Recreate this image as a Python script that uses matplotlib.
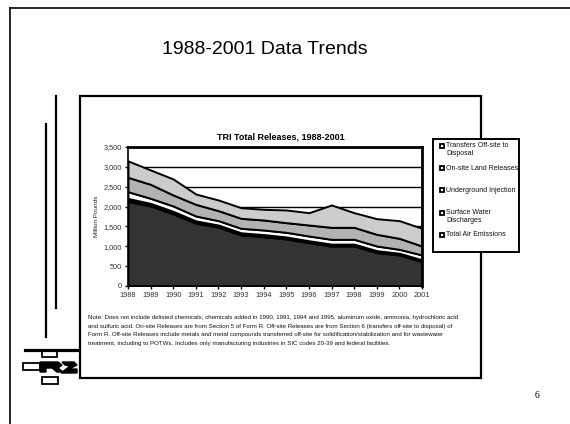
import matplotlib
matplotlib.use("Agg")
import matplotlib.pyplot as plt
from matplotlib.patches import Rectangle, Polygon
from matplotlib.lines import Line2D

# ---- data (million pounds) ----
years = list(range(1988, 2002))
air_emissions = [2125, 2015, 1815, 1580, 1480, 1285, 1240, 1185, 1090, 1005, 1005, 840, 780, 615]
surface_water = [80, 65, 65, 60, 55, 55, 55, 50, 50, 50, 50, 50, 45, 45]
underground_injection = [170, 127, 134, 123, 110, 112, 115, 116, 119, 120, 120, 117, 98, 121]
land_releases = [362, 353, 277, 293, 252, 252, 252, 244, 277, 302, 302, 294, 277, 226]
offsite_transfers = [413, 361, 403, 260, 268, 268, 269, 319, 310, 563, 369, 394, 445, 445]

series_labels = ["Transfers Off-site to\nDisposal", "On-site Land Releases",
                 "Underground Injection", "Surface Water\nDischarges",
                 "Total Air Emissions"]
y_ticks = [0, 500, 1000, 1500, 2000, 2500, 3000, 3500]
y_tick_labels = ["0", "500", "1,000", "1,500", "2,000", "2,500", "3,000", "3,500"]

note_lines = [
    "Note: Does not include delisted chemicals, chemicals added in 1990, 1991, 1994 and 1995, aluminum oxide, ammonia, hydrochloric acid",
    "and sulfuric acid. On-site Releases are from Section 5 of Form R. Off-site Releases are from Section 6 (transfers off-site to disposal) of",
    "Form R. Off-site Releases include metals and metal compounds transferred off-site for solidification/stabilization and for wastewater",
    "treatment, including to POTWs. Includes only manufacturing industries in SIC codes 20-39 and federal facilities.",
]

SANS = "Liberation Sans"
SERIF = "Liberation Serif"

W, H = 570, 424
fig = plt.figure(figsize=(W / 100, H / 100), dpi=100)
fig.patch.set_facecolor("white")

# full-page layer in pixel coordinates for the slide decorations
page = fig.add_axes([0, 0, 1, 1])
page.set_xlim(0, W)
page.set_ylim(H, 0)
page.axis("off")

# slide frame
page.add_line(Line2D([10, 10], [8, H], color="black", lw=1.2))
page.add_line(Line2D([10, W], [8, 8], color="black", lw=1.2))

# decorative vertical rules
page.add_line(Line2D([56, 56], [96, 308], color="black", lw=1.6))
page.add_line(Line2D([46, 46], [124, 337], color="black", lw=1.6))

# logo
page.add_line(Line2D([25, 77], [349.5, 349.5], color="black", lw=2.3))
page.add_patch(Rectangle((42, 351), 15, 6, facecolor="white", edgecolor="black", lw=1.3))
page.add_patch(Rectangle((23, 363), 17, 7, facecolor="white", edgecolor="black", lw=1.3))
page.add_patch(Polygon([(40, 362), (58, 362), (62, 365), (58, 368), (63, 372), (57, 372),
                        (52, 368), (46, 368), (46, 372), (40, 372)], closed=True,
                       facecolor="black", edgecolor="black"))
page.add_patch(Polygon([(62, 362), (74, 362), (77, 365), (69, 369), (77, 369), (77, 373),
                        (61, 373), (70, 366), (65, 365)], closed=True,
                       facecolor="black", edgecolor="black"))
page.add_patch(Rectangle((42, 377), 16, 7, facecolor="white", edgecolor="black", lw=1.3))

# chart frame
page.add_patch(Rectangle((80, 96), 401, 282, facecolor="white", edgecolor="black", lw=1.6))

# titles
page.text(265, 49, "1988-2001 Data Trends", fontsize=14, family=SANS,
          ha="center", va="center", color="black")
page.text(281, 137, "TRI Total Releases, 1988-2001", fontsize=6.5, family=SANS,
          fontweight="bold", ha="center", va="center", color="black")
page.text(537, 395, "6", fontsize=7, family=SERIF, ha="center", va="center")

# y axis title
page.text(96, 216, "Million Pounds", fontsize=4.6, family=SANS, rotation=90,
          ha="center", va="center", color="#222222")

# note under the chart
for i, line in enumerate(note_lines):
    page.text(88, 318 + i * 8.4, line, fontsize=4.45, family=SANS,
              ha="left", va="center", color="#111111")

# legend box
page.add_patch(Rectangle((433, 139), 86, 113, facecolor="white", edgecolor="black", lw=1.4))
legend_y = [146, 168, 190, 213, 235]
for label, yy in zip(series_labels, legend_y):
    page.add_patch(Rectangle((439.5, yy - 2.2), 4.4, 4.4, facecolor="white",
                             edgecolor="black", lw=1.3))
    if "\n" in label:
        page.text(446, yy - 3.8, label, fontsize=5.0, family=SANS, ha="left",
                  va="top", linespacing=1.15, color="#111111")
    else:
        page.text(446, yy, label, fontsize=5.0, family=SANS, ha="left",
                  va="center", color="#111111")

# ---- stacked area chart ----
ax = fig.add_axes([128 / W, 1 - 286 / H, (422 - 128) / W, (286 - 147) / H])
ax.set_facecolor("white")
for v in y_ticks[1:]:
    ax.axhline(v, color="black", lw=1.0, zorder=0)

ax.stackplot(years, air_emissions, surface_water, underground_injection,
             land_releases, offsite_transfers,
             colors=["#333333", "#000000", "#ffffff", "#b2b2b2", "#cccccc"],
             edgecolor="black", linewidth=1.4, zorder=2)

ax.set_xlim(years[0], years[-1])
ax.set_ylim(0, 3500)
ax.set_xticks(years)
ax.set_xticklabels([str(y) for y in years], fontsize=5.3, family=SANS, color="#333333")
ax.set_yticks(y_ticks)
ax.set_yticklabels(y_tick_labels, fontsize=5.3, family=SANS, color="#333333")
ax.tick_params(axis="both", length=2.5, width=1.0, color="black", pad=2)

for side in ["top", "right"]:
    ax.spines[side].set_linewidth(2.0)
for side in ["left", "bottom"]:
    ax.spines[side].set_linewidth(1.2)
for s in ax.spines.values():
    s.set_color("black")
    s.set_zorder(3)

fig.savefig("out.png", dpi=100, facecolor="white")
